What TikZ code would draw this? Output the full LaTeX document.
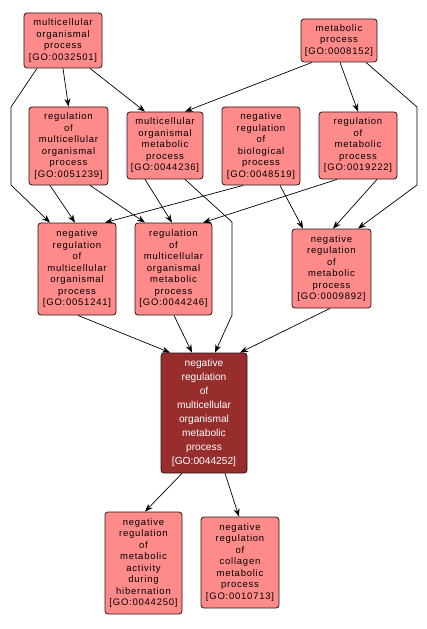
\documentclass[tikz,border=0pt]{standalone}
\usepackage{fontspec}
\setmainfont{Liberation Sans}
\newfontfamily\lbl[LetterSpace=8]{Liberation Sans}
\usetikzlibrary{arrows.meta}
\definecolor{lightred}{RGB}{255,138,138}
\definecolor{darkred}{RGB}{152,45,45}
\definecolor{bordc}{RGB}{40,20,20}
\tikzset{
  go/.style={draw=bordc, line width=0.8bp, rounded corners=3bp, fill=lightred,
    inner sep=0pt, align=center, font=\lbl\fontsize{9.5bp}{11.5bp}\selectfont},
  godark/.style={go, fill=darkred, text=white, font=\fontsize{10.2bp}{14bp}\selectfont},
  link/.style={-{Stealth[length=8bp,width=6bp]}, line width=0.7bp, black},
}
\begin{document}
\begin{tikzpicture}[x=1bp,y=-1bp]
\useasboundingbox (0,0) rectangle (426,629);
\node[go, minimum width=78bp, minimum height=55bp] (A) at (63,40.5)
  {multicellular\\organismal\\process\\{[GO:0032501]}};
\node[go, minimum width=76bp, minimum height=43bp] (B) at (339,40.5)
  {metabolic\\process\\{[GO:0008152]}};
\node[go, minimum width=79bp, minimum height=78bp] (C) at (68.5,146)
  {regulation\\of\\multicellular\\organismal\\process\\{[GO:0051239]}};
\node[go, minimum width=76bp, minimum height=67bp] (D) at (165,145.5)
  {multicellular\\organismal\\metabolic\\process\\{[GO:0044236]}};
\node[go, minimum width=78bp, minimum height=78bp] (E) at (261,146)
  {negative\\regulation\\of\\biological\\process\\{[GO:0048519]}};
\node[go, minimum width=78bp, minimum height=67bp] (F) at (358,145.5)
  {regulation\\of\\metabolic\\process\\{[GO:0019222]}};
\node[go, minimum width=78bp, minimum height=92bp] (G) at (77,269)
  {negative\\regulation\\of\\multicellular\\organismal\\process\\{[GO:0051241]}};
\node[go, minimum width=77bp, minimum height=92bp] (H) at (173.5,269)
  {regulation\\of\\multicellular\\organismal\\metabolic\\process\\{[GO:0044246]}};
\node[go, minimum width=79bp, minimum height=79bp] (I) at (331.5,268.5)
  {negative\\regulation\\of\\metabolic\\process\\{[GO:0009892]}};
\node[godark, minimum width=86bp, minimum height=120bp] (J) at (204,413)
  {negative\\regulation\\of\\multicellular\\organismal\\metabolic\\process\\{[GO:0044252]}};
\node[go, minimum width=77bp, minimum height=102bp] (K) at (143.5,563)
  {negative\\regulation\\of\\metabolic\\activity\\during\\hibernation\\{[GO:0044250]}};
\node[go, minimum width=78bp, minimum height=91bp] (L) at (240,562.5)
  {negative\\regulation\\of\\collagen\\metabolic\\process\\{[GO:0010713]}};

\draw[link] (A.south) -- (C.north);
\draw[link] ([xshift=27bp]A.south) -- ([xshift=-20bp]D.north);
\draw[link] ([xshift=-26bp]A.south) -- (11,107) -- (11,185) -- ([xshift=-27bp]G.north);
\draw[link] ([xshift=-27bp]B.south) -- ([xshift=20bp]D.north);
\draw[link] ([xshift=1bp]B.south) -- (F.north);
\draw[link] ([xshift=27bp]B.south) -- (417,107) -- (417,185) -- ([xshift=26.5bp]I.north);
\draw[link] ([xshift=-18.5bp]C.south) -- ([xshift=-2bp]G.north);
\draw[link] ([xshift=21.5bp]C.south) -- ([xshift=-28.5bp]H.north);
\draw[link] ([xshift=-20bp]D.south) -- ([xshift=-1.5bp]H.north);
\draw[link] ([xshift=20bp]D.south) -- (232,222) -- (232,315) -- ([xshift=11bp]J.north);
\draw[link] ([xshift=-18bp]E.south) -- ([xshift=28bp]G.north);
\draw[link] ([xshift=19bp]E.south) -- ([xshift=-28.5bp]I.north);
\draw[link] ([xshift=-21bp]F.south) -- ([xshift=29.5bp]H.north);
\draw[link] ([xshift=19bp]F.south) -- ([xshift=1.5bp]I.north);
\draw[link] ([xshift=1bp]G.south) -- ([xshift=-34bp]J.north);
\draw[link] ([xshift=0.5bp]H.south) -- ([xshift=-12bp]J.north);
\draw[link] ([xshift=-1.5bp]I.south) -- ([xshift=36bp]J.north);
\draw[link] ([xshift=-22bp]J.south) -- ([xshift=1.5bp]K.north);
\draw[link] ([xshift=21bp]J.south) -- ([xshift=-1bp]L.north);
\end{tikzpicture}
\end{document}
